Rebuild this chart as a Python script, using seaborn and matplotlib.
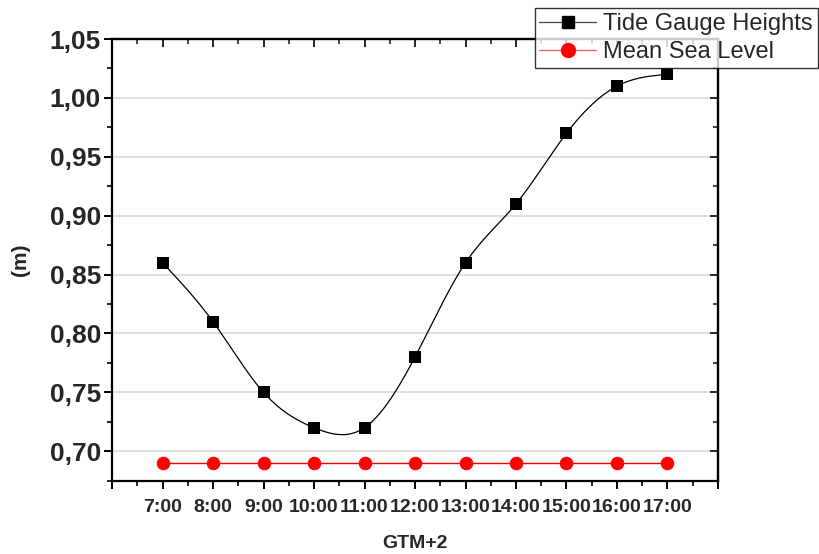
import numpy as np
import pandas as pd
import matplotlib
matplotlib.use("Agg")
import matplotlib.pyplot as plt
import seaborn as sns
from matplotlib.lines import Line2D
from matplotlib.ticker import FuncFormatter, MultipleLocator

# Data
hours = [7, 8, 9, 10, 11, 12, 13, 14, 15, 16, 17]
hour_labels = ["7:00", "8:00", "9:00", "10:00", "11:00", "12:00",
               "13:00", "14:00", "15:00", "16:00", "17:00"]
tide_heights = [0.86, 0.81, 0.75, 0.72, 0.72, 0.78, 0.86, 0.91, 0.97, 1.01, 1.02]
mean_sea_level = [0.69] * 11


def natural_spline(x, y, n=400):
    # natural cubic spline for the smooth connecting line
    x = np.asarray(x, float)
    y = np.asarray(y, float)
    k = len(x)
    h = np.diff(x)
    A = np.zeros((k, k))
    b = np.zeros(k)
    A[0, 0] = A[-1, -1] = 1
    for i in range(1, k - 1):
        A[i, i - 1] = h[i - 1]
        A[i, i] = 2 * (h[i - 1] + h[i])
        A[i, i + 1] = h[i]
        b[i] = 3 * ((y[i + 1] - y[i]) / h[i] - (y[i] - y[i - 1]) / h[i - 1])
    c = np.linalg.solve(A, b)
    xs = np.linspace(x[0], x[-1], n)
    idx = np.clip(np.searchsorted(x, xs) - 1, 0, k - 2)
    dx = xs - x[idx]
    bb = (y[idx + 1] - y[idx]) / h[idx] - h[idx] * (2 * c[idx] + c[idx + 1]) / 3
    dd = (c[idx + 1] - c[idx]) / (3 * h[idx])
    ys = y[idx] + bb * dx + c[idx] * dx ** 2 + dd * dx ** 3
    return xs, ys


df = pd.DataFrame({"hour": hours, "tide": tide_heights, "msl": mean_sea_level})
sx, sy = natural_spline(hours, tide_heights)
curve = pd.DataFrame({"hour": sx, "tide": sy})

sns.set_style("white")
plt.rcParams["font.family"] = ["Liberation Sans", "DejaVu Sans"]

fig = plt.figure(figsize=(8.2, 5.54), dpi=100)
ax = fig.add_axes([0.1366, 0.1323, 0.739, 0.7973])

for yv in [0.70, 0.75, 0.80, 0.85, 0.90, 0.95, 1.00]:
    ax.axhline(yv, color="#d9d9d9", lw=1.2, zorder=0)

sns.lineplot(data=curve, x="hour", y="tide", ax=ax, color="black", lw=0.9,
             estimator=None, sort=False, zorder=2)
sns.lineplot(data=df, x="hour", y="msl", ax=ax, color="red", lw=1.0,
             marker="o", markersize=9, markeredgecolor="red",
             estimator=None, zorder=3)
sns.scatterplot(data=df, x="hour", y="tide", ax=ax, marker="s", s=80,
                color="black", edgecolor="black", linewidth=0, zorder=4)

ax.set_xlim(6, 18)
ax.set_ylim(0.675, 1.05)
ax.set_xticks(range(6, 19))
ax.set_xticklabels([""] + hour_labels + [""])
ax.xaxis.set_minor_locator(MultipleLocator(0.5))
ax.yaxis.set_major_locator(MultipleLocator(0.05))
ax.yaxis.set_minor_locator(MultipleLocator(0.025))
ax.yaxis.set_major_formatter(FuncFormatter(lambda v, p: f"{v:.2f}".replace(".", ",")))

for s in ax.spines.values():
    s.set_visible(True)
    s.set_color("black")
    s.set_linewidth(1.6)

ax.tick_params(axis="both", which="major", direction="out", length=6, width=1.4,
               color="black")
ax.tick_params(axis="both", which="minor", direction="out", length=3.5, width=1.2,
               color="black")
ax.tick_params(axis="y", which="both", left=True, right=False, labelsize=19, pad=2)
ax.tick_params(axis="x", which="both", bottom=True, top=False, labelsize=14, pad=7)
for lab in ax.get_xticklabels() + ax.get_yticklabels():
    lab.set_fontweight("bold")

# mirrored axes with inward ticks on top and right
top = ax.secondary_xaxis("top")
top.set_xticks(range(6, 19))
top.xaxis.set_minor_locator(MultipleLocator(0.5))
top.tick_params(which="major", direction="in", length=6, width=1.4, labeltop=False)
top.tick_params(which="minor", direction="in", length=3.5, width=1.2)
top.spines["top"].set_linewidth(1.6)
right = ax.secondary_yaxis("right")
right.set_yticks(np.arange(0.70, 1.051, 0.05))
right.yaxis.set_minor_locator(MultipleLocator(0.025))
right.tick_params(which="major", direction="in", length=6, width=1.4, labelright=False)
right.tick_params(which="minor", direction="in", length=3.5, width=1.2)
right.spines["right"].set_linewidth(1.6)

ax.set_xlabel("GTM+2", fontsize=14, fontweight="bold", labelpad=14)
ax.set_ylabel("(m)", fontsize=15, fontweight="bold", labelpad=14)

handles = [
    Line2D([0], [0], color="#444444", lw=0.9, marker="s", markersize=9,
           markerfacecolor="black", markeredgecolor="black"),
    Line2D([0], [0], color="#ff5555", lw=0.9, marker="o", markersize=10,
           markerfacecolor="red", markeredgecolor="red"),
]
leg = fig.legend(handles, ["Tide Gauge Heights", "Mean Sea Level"],
                 loc="upper right", bbox_to_anchor=(0.997, 0.985),
                 bbox_transform=fig.transFigure, borderaxespad=0,
                 fontsize=17, frameon=True, fancybox=False, handlelength=2.4,
                 handletextpad=0.3, borderpad=0.2, labelspacing=0.25)
leg.get_frame().set_edgecolor("black")
leg.get_frame().set_linewidth(1.0)
leg.set_zorder(10)

fig.savefig("out.png", dpi=100)
